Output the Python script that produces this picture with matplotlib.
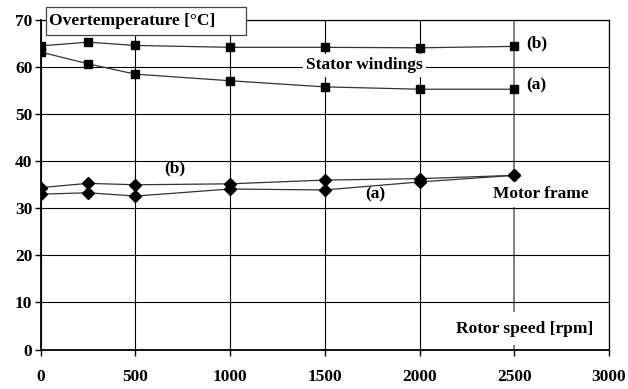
import numpy as np
import matplotlib
matplotlib.use("Agg")
import matplotlib.pyplot as plt
from matplotlib.patches import Rectangle

plt.rcParams['font.family'] = ['Liberation Serif', 'DejaVu Serif']
plt.rcParams['font.weight'] = 'bold'

speed = [0, 250, 500, 1000, 1500, 2000, 2500]
stator_b = [64.5, 65.3, 64.6, 64.2, 64.2, 64.1, 64.4]
stator_a = [63.2, 60.7, 58.5, 57.1, 55.8, 55.3, 55.3]
frame_b = [34.4, 35.3, 35.0, 35.2, 36.0, 36.3, 37.0]
frame_a = [33.0, 33.3, 32.6, 34.1, 33.9, 35.6, 37.0]

xticks = [0, 500, 1000, 1500, 2000, 2500, 3000]
yticks = [0, 10, 20, 30, 40, 50, 60, 70]

fig = plt.figure(figsize=(6.28, 3.89), dpi=100)
ax = fig.add_axes([0.0648, 0.1015, 0.9048, 0.847])

ax.set_xlim(0, 3000)
ax.set_ylim(0, 70)
ax.set_xticks(xticks)
ax.set_yticks(yticks)
ax.tick_params(labelsize=12.5, width=1, length=4, direction='out', colors='black')
ax.tick_params(axis='x', pad=10)
ax.tick_params(axis='y', pad=2)
for lab in ax.get_xticklabels() + ax.get_yticklabels():
    lab.set_fontweight('bold')
for s in ax.spines.values():
    s.set_linewidth(0.9)
    s.set_color('black')
ax.spines['left'].set_linewidth(1.3)
ax.spines['bottom'].set_linewidth(1.3)

ax.grid(True, color='black', linewidth=0.8)
ax.set_axisbelow(True)
ax.get_xgridlines()[5].set_color('#777777')
ax.get_xgridlines()[5].set_linewidth(1.3)

lc = '#333333'
ax.plot(speed, stator_b, color=lc, lw=0.9, marker='s', ms=6, mfc='black', mec='black', zorder=3)
ax.plot(speed, stator_a, color=lc, lw=0.9, marker='s', ms=6, mfc='black', mec='black', zorder=3)
ax.plot(speed, frame_b, color=lc, lw=0.9, marker='D', ms=6, mfc='black', mec='black', zorder=3)
ax.plot(speed, frame_a, color=lc, lw=0.9, marker='D', ms=6, mfc='black', mec='black', zorder=3)

wbox = dict(facecolor='white', edgecolor='none', pad=2.5)
fs = 12.5
ax.text(1710, 60.4, 'Stator windings', ha='center', va='center', fontsize=fs, fontweight='bold', bbox=wbox, zorder=2.5)
ax.text(2565, 65.0, '(b)', ha='left', va='center', fontsize=fs, fontweight='bold')
ax.text(2565, 56.1, '(a)', ha='left', va='center', fontsize=fs, fontweight='bold')
ax.text(709, 38.4, '(b)', ha='center', va='center', fontsize=fs, fontweight='bold')
ax.text(1765, 32.9, '(a)', ha='center', va='center', fontsize=fs, fontweight='bold')
ax.text(2642, 33.1, 'Motor frame', ha='center', va='center', fontsize=fs, fontweight='bold',
        bbox=dict(facecolor='white', edgecolor='none', pad=3.5), zorder=2.5)
ax.text(2557, 4.4, 'Rotor speed [rpm]', ha='center', va='center', fontsize=fs, fontweight='bold',
        bbox=dict(facecolor='white', edgecolor='none', pad=6), zorder=2.5)

# title box at top-left
fig.patches.append(Rectangle((0.0728, 0.910), 0.319, 0.0728, transform=fig.transFigure,
                             facecolor='white', edgecolor='#444444', linewidth=0.9, zorder=5))
fig.text(49 / 628, 1 - 21 / 389, 'Overtemperature [°C]', ha='left', va='center',
         fontsize=12.5, fontweight='bold', zorder=6)

fig.savefig('out.png', dpi=100)
